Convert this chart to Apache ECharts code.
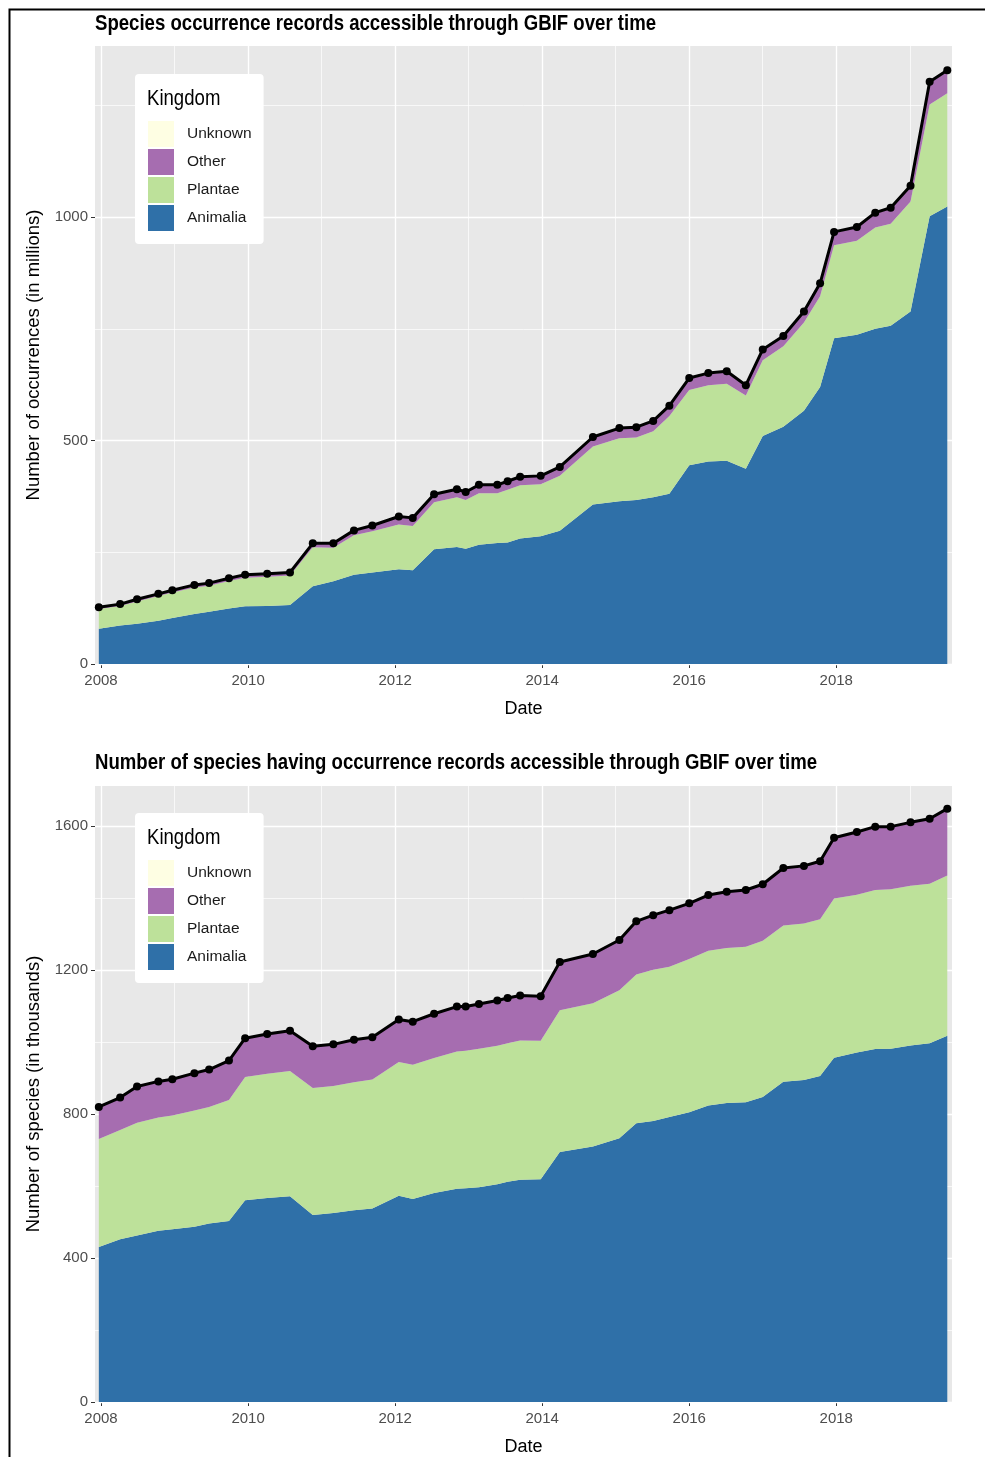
<!DOCTYPE html>
<html><head><meta charset="utf-8">
<script src="https://cdn.jsdelivr.net/npm/echarts@6/dist/echarts.min.js"></script>
<style>html,body{margin:0;padding:0;background:#fff}#c{width:985px;height:1457px}</style>
</head><body><div id="c"></div>
<script>
// ---- data (decimal years) ----
const dates = [2007.97, 2008.26, 2008.49, 2008.78, 2008.97, 2009.27, 2009.47, 2009.74, 2009.96, 2010.26,
  2010.57, 2010.88, 2011.16, 2011.44, 2011.69, 2012.05, 2012.24, 2012.53, 2012.84, 2012.96,
  2013.14, 2013.39, 2013.53, 2013.70, 2013.98, 2014.24, 2014.69, 2015.05, 2015.28, 2015.51,
  2015.73, 2016.00, 2016.26, 2016.51, 2016.77, 2017.00, 2017.28, 2017.56, 2017.78, 2017.97,
  2018.28, 2018.53, 2018.74, 2019.01, 2019.27, 2019.51];

// occurrences, millions
const occAnimalia = [79, 86, 90, 97, 103, 112, 117, 124, 129, 130, 132, 174, 185, 200, 205, 212, 210, 257, 262, 258,
  267, 271, 272, 281, 286, 298, 357, 364, 367, 373, 381, 445, 453, 455, 437, 510, 531, 567, 620, 729,
  737, 750, 757, 789, 1002, 1024];
const occPlantae = [44, 44, 50, 55, 57, 59, 58, 62, 64, 65, 66, 87, 75, 88, 92, 100, 99, 105, 111, 109,
  115, 111, 118, 119, 116, 123, 130, 141, 140, 148, 174, 168, 171, 172, 164, 170, 180, 197, 203, 208,
  210, 227, 228, 246, 250, 253];
const occOther = [3, 3, 4, 4, 4, 5, 5, 5, 6, 6, 6, 8, 9, 10, 12, 17, 17, 17, 17, 17,
  18, 18, 18, 18, 18, 19, 20, 22, 22, 22, 22, 25, 25, 26, 21, 22, 21, 23, 27, 28,
  29, 31, 34, 32, 48, 49];
const occUnknown = [1, 1, 1, 1, 1, 1, 1, 1, 1, 1, 1, 1, 1, 1, 1, 1, 1, 1, 1, 1,
  1, 1, 1, 1, 1, 1, 1, 1, 1, 1, 1, 2, 2, 2, 2, 2, 2, 2, 2, 2,
  2, 2, 2, 3, 3, 3];

// species, thousands
const spAnimalia = [431, 452, 463, 476, 480, 487, 496, 503, 561, 567, 572, 520, 525, 533, 538, 573, 564, 581, 593, 594,
  597, 605, 612, 618, 619, 695, 710, 733, 775, 781, 792, 805, 824, 831, 833, 848, 890, 895, 906, 957,
  971, 981, 982, 991, 997, 1018];
const spPlantae = [300, 304, 313, 315, 316, 323, 324, 336, 342, 345, 348, 353, 353, 356, 358, 372, 373, 375, 381, 382,
  385, 385, 385, 387, 385, 394, 398, 411, 413, 420, 418, 426, 430, 431, 432, 434, 434, 435, 436, 442,
  439, 442, 443, 444, 443, 445];
const spOther = [87, 88, 99, 98, 99, 102, 102, 108, 106, 109, 110, 114, 114, 116, 116, 116, 118, 121, 123, 121,
  122, 124, 124, 123, 122, 132, 135, 138, 146, 150, 155, 153, 153, 154, 156, 155, 158, 158, 159, 167,
  172, 174, 172, 174, 179, 184];
const spUnknown = [2, 2, 2, 2, 2, 2, 2, 2, 2, 2, 2, 2, 2, 2, 2, 2, 2, 2, 2, 2,
  2, 2, 2, 2, 2, 2, 2, 2, 2, 2, 2, 2, 2, 2, 2, 2, 2, 2, 2, 2,
  2, 2, 2, 2, 2, 2];

const legendOrder = ['Unknown', 'Other', 'Plantae', 'Animalia'];
const xMajorTicks = [2008, 2010, 2012, 2014, 2016, 2018];
const xMinorTicks = [2009, 2011, 2013, 2015, 2017, 2019];
const occMajorTicks = [0, 500, 1000];
const occMinorTicks = [250, 750, 1250];
const spMajorTicks = [0, 400, 800, 1200, 1600];
const spMinorTicks = [200, 600, 1000, 1400];

// ---- styling ----
const colors = { Animalia: '#2F70A8', Plantae: '#BDE19A', Other: '#A66DB0', Unknown: '#FEFEE3' };
const FONT = '"Liberation Sans", Arial, sans-serif';

const chart = echarts.init(document.getElementById('c'), null, { renderer: 'canvas' });

// value first, date second (so the stack is applied to the value dimension)
function pairs(vals) { return dates.map((d, i) => [vals[i], d]); }

function buildSeries(idx, layers, majorY, minorY) {
  const s = [];
  const gridLines = [];
  majorY.forEach(v => gridLines.push({ yAxis: v, lineStyle: { width: 1.4 } }));
  minorY.forEach(v => gridLines.push({ yAxis: v, lineStyle: { width: 0.7 } }));
  xMajorTicks.forEach(v => gridLines.push({ xAxis: v, lineStyle: { width: 1.4 } }));
  xMinorTicks.forEach(v => gridLines.push({ xAxis: v, lineStyle: { width: 0.7 } }));
  s.push({
    type: 'line', name: 'grid' + idx, xAxisIndex: idx, yAxisIndex: idx, data: [], z: 1,
    silent: true,
    markLine: { z: 1, silent: true, symbol: ['none', 'none'], label: { show: false }, animation: false,
      lineStyle: { color: '#ffffff', type: 'solid' }, data: gridLines }
  });
  const order = ['Animalia', 'Plantae', 'Other', 'Unknown'];
  order.forEach(name => {
    s.push({
      type: 'line', name: name, xAxisIndex: idx, yAxisIndex: idx, stack: 'k' + idx,
      encode: { x: 1, y: 0 },
      data: pairs(layers[name]), symbol: 'none', showSymbol: false, z: 2,
      lineStyle: { width: 0, color: colors[name] }, itemStyle: { color: colors[name] },
      areaStyle: { color: colors[name], opacity: 1 }, emphasis: { disabled: true }, animation: false
    });
  });
  const total = dates.map((d, i) => order.reduce((acc, n) => acc + layers[n][i], 0));
  s.push({
    type: 'line', name: 'Total' + idx, xAxisIndex: idx, yAxisIndex: idx, data: pairs(total), z: 3,
    encode: { x: 1, y: 0 },
    symbol: 'circle', symbolSize: 8, showSymbol: true,
    lineStyle: { color: '#000', width: 3 }, itemStyle: { color: '#000' },
    emphasis: { disabled: true }, animation: false
  });
  return s;
}

function xAxisDef(idx) {
  return {
    type: 'value', gridIndex: idx, min: 2007.918, max: 2019.574,
    axisLine: { show: false }, splitLine: { show: false },
    axisTick: { show: true, customValues: xMajorTicks, length: 4, lineStyle: { color: '#333', width: 1 } },
    axisLabel: { customValues: xMajorTicks, color: '#4D4D4D', fontSize: 15, fontFamily: FONT, margin: 9,
      formatter: v => String(v) },
    name: 'Date', nameLocation: 'middle', nameGap: 36,
    nameTextStyle: { fontSize: 18, fontFamily: FONT, color: '#000' }
  };
}
function yAxisDef(idx, max, ticks, title) {
  return {
    type: 'value', gridIndex: idx, min: 0, max: max,
    axisLine: { show: false }, splitLine: { show: false },
    axisTick: { show: true, customValues: ticks, length: 4, lineStyle: { color: '#333', width: 1 } },
    axisLabel: { customValues: ticks, color: '#4D4D4D', fontSize: 15, fontFamily: FONT, margin: 7,
      formatter: v => String(v) },
    name: title, nameLocation: 'middle', nameGap: 44, nameRotate: 90,
    nameTextStyle: { fontSize: 18.5, fontFamily: FONT, color: '#000' }
  };
}
function legendDef(top) {
  return {
    data: legendOrder, orient: 'vertical', left: 135, top: top,
    itemWidth: 26, itemHeight: 26, itemGap: 2, icon: 'rect',
    padding: [47, 12, 13, 13], backgroundColor: '#ffffff', borderRadius: 4,
    selectedMode: false, itemStyle: { borderWidth: 0 },
    textStyle: { fontSize: 15.5, fontFamily: FONT, color: '#1A1A1A', padding: [0, 0, 0, 8] }
  };
}
function squeezedText(text, left, top, size, weight) {
  return { type: 'text', left: left, top: top, z: 100, scaleX: 0.845, silent: true,
    style: { text: text, fontSize: size, fontWeight: weight, fontFamily: FONT, fill: '#000' } };
}

const occLayers = { Animalia: occAnimalia, Plantae: occPlantae, Other: occOther, Unknown: occUnknown };
const spLayers = { Animalia: spAnimalia, Plantae: spPlantae, Other: spOther, Unknown: spUnknown };

chart.setOption({
  animation: false,
  backgroundColor: '#ffffff',
  grid: [
    { left: 95, right: 33, top: 46, height: 618, show: true, backgroundColor: '#E8E8E8', borderWidth: 0 },
    { left: 95, right: 33, top: 786, height: 617.5, show: true, backgroundColor: '#E8E8E8', borderWidth: 0 }
  ],
  xAxis: [xAxisDef(0), xAxisDef(1)],
  yAxis: [yAxisDef(0, 1383, occMajorTicks, 'Number of occurrences (in millions)'),
          yAxisDef(1, 1712, spMajorTicks, 'Number of species (in thousands)')],
  legend: [legendDef(74), legendDef(813)],
  series: buildSeries(0, occLayers, occMajorTicks, occMinorTicks).concat(buildSeries(1, spLayers, spMajorTicks, spMinorTicks)),
  graphic: [
    { type: 'rect', left: 7, top: 7, z: 100, shape: { width: 1000, height: 1500 }, style: { fill: 'none', stroke: '#000', lineWidth: 2 }, silent: true },
    squeezedText('Species occurrence records accessible through GBIF over time', 95, 13, 22, 'bold'),
    squeezedText('Number of species having occurrence records accessible through GBIF over time', 95, 752, 22, 'bold'),
    squeezedText('Kingdom', 147, 88, 22, 'normal'),
    squeezedText('Kingdom', 147, 827, 22, 'normal')
  ]
});
</script></body></html>
